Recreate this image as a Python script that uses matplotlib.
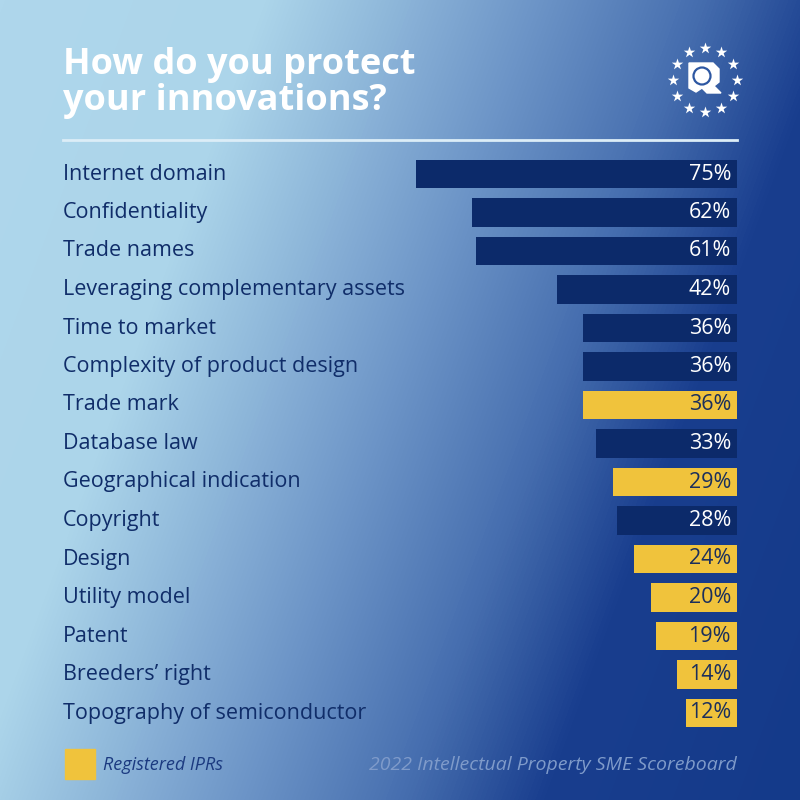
import numpy as np
import matplotlib
matplotlib.use('Agg')
import matplotlib.pyplot as plt
from matplotlib.colors import LinearSegmentedColormap

plt.rcParams['font.family'] = ['Open Sans', 'DejaVu Sans']

# Dados
categories = ['Internet domain', 'Confidentiality', 'Trade names',
              'Leveraging complementary assets', 'Time to market',
              'Complexity of product design', 'Trade mark', 'Database law',
              'Geographical indication', 'Copyright', 'Design', 'Utility model',
              'Patent', 'Breeders\u2019 right', 'Topography of semiconductor']
values = [75, 62, 61, 42, 36, 36, 36, 33, 29, 28, 24, 20, 19, 14, 12]
registered = [False, False, False, False, False, False, True, False,
              True, False, True, True, True, True, True]

navy = '#0c2a6a'
yellow = '#f0c33c'
label_color = '#102d69'


def fx(x):
    return x / 800


def fy(y):
    return 1 - y / 800


fig = plt.figure(figsize=(8, 8), dpi=100)

# Fundo em degradê diagonal (claro em cima à esquerda, escuro embaixo à direita)
bg = fig.add_axes([0, 0, 1, 1])
stops = [(0.0, (175, 215, 236)), (0.242, (172, 213, 234)),
         (0.484, (110, 150, 200)), (0.639, (70, 110, 175)),
         (0.766, (25, 62, 142)), (1.0, (20, 58, 138))]
cmap = LinearSegmentedColormap.from_list(
    'bg', [(p, tuple(c / 255 for c in rgb)) for p, rgb in stops])
X, Y = np.meshgrid(np.arange(800), np.arange(800))
u = (X + 0.37 * Y) / 1096
bg.imshow(u, aspect='auto', cmap=cmap, extent=[0, 1, 0, 1], origin='upper',
          vmin=0, vmax=1)
bg.set_xlim(0, 1)
bg.set_ylim(0, 1)
bg.axis('off')

# Título
fig.text(fx(63), fy(74), 'How do you protect', color='white',
         fontsize=26, fontweight='bold', ha='left', va='baseline')
fig.text(fx(63), fy(110), 'your innovations?', color='white',
         fontsize=26, fontweight='bold', ha='left', va='baseline')

# Linha separadora
bg.plot([fx(63), fx(737)], [fy(140), fy(140)], color='#dcedf7', lw=2)

# Logo (estrelas + R com lupa)
ang = np.linspace(0, 2 * np.pi, 13)[:-1]
cx, cy, r = fx(705), fy(80), 32 / 800
bg.scatter(cx + r * np.sin(ang), cy + r * np.cos(ang), marker='*', s=75,
           color='white', lw=0)
r_shape = [(689, 63), (713, 63), (719, 69), (719, 82), (714, 86), (721, 93),
           (707, 93), (702, 88), (696, 92), (689, 88)]
bg.add_patch(plt.Polygon([(fx(a), fy(b)) for a, b in r_shape], color='white'))
bg.add_patch(plt.Circle((fx(702), fy(76)), 8.5 / 800, facecolor='white',
                        edgecolor='#2d57a2', lw=1.6))

# Gráfico de barras
px = 4.28  # pixels por ponto percentual
ax = fig.add_axes([fx(63), fy(732.25), 674 / 800, 577.5 / 800])
ax.set_xlim(674 / px, 0)
ax.set_ylim(len(categories) - 0.5, -0.5)
ax.axis('off')

y = np.arange(len(categories))
colors = [yellow if reg else navy for reg in registered]
ax.barh(y, values, height=0.75, color=colors, zorder=2)

for i, v in enumerate(values):
    ax.text(674 / px, i, categories[i], ha='left', va='center',
            fontsize=15.5, color=label_color)
    ax.text(6 / px, i, f'{v}%', ha='right', va='center', fontsize=15.5,
            color='#1b2f5c' if registered[i] else 'white')

# Legenda e fonte
bg.add_patch(plt.Rectangle((fx(65), fy(779)), 30 / 800, 30 / 800,
                           color=yellow))
fig.text(fx(103), fy(765), 'Registered IPRs', color='#1b3a80',
         fontsize=13, style='italic', ha='left', va='center')
fig.text(fx(737), fy(765), '2022 Intellectual Property SME Scoreboard',
         color='#7f9bca', fontsize=14, style='italic', ha='right', va='center')

plt.savefig('out.png', dpi=100)
